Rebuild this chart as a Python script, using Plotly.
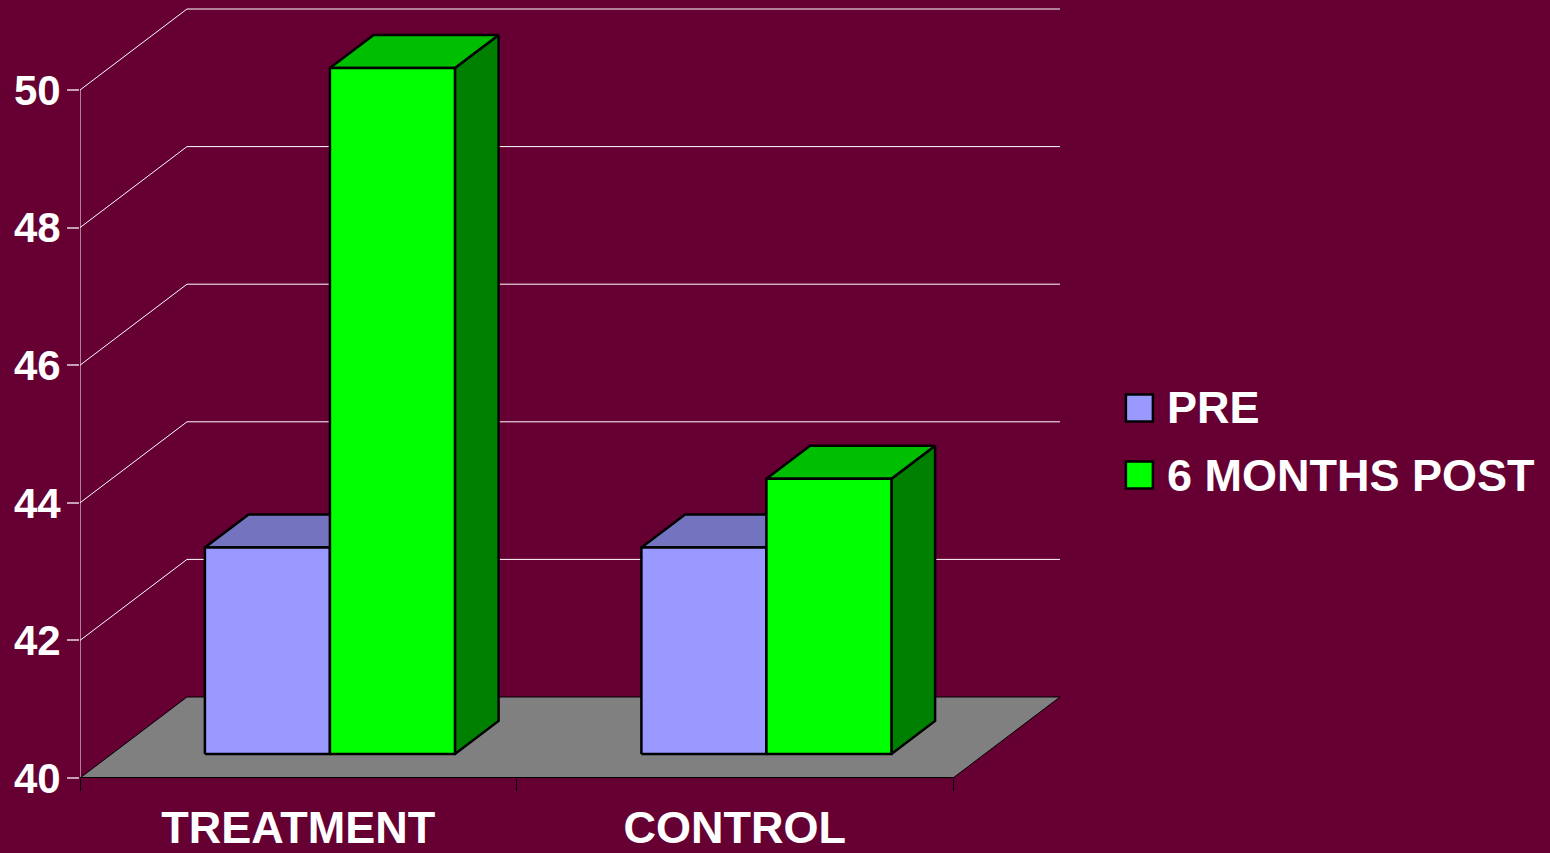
import plotly.graph_objects as go

categories = ["TREATMENT", "CONTROL"]
series_names = ["PRE", "6 MONTHS POST"]
pre_values = [43, 43]
post_values = [49.97, 44]
y_ticks = [40, 42, 44, 46, 48, 50]
y_tick_labels = ["40", "42", "44", "46", "48", "50"]

BG = "#660033"
FONT = "Liberation Sans, Arial, sans-serif"
COLORS = {
    "PRE": ("#9999FF", "#7373BF", "#4D4D80"),
    "6 MONTHS POST": ("#00FF00", "#00BF00", "#008000"),
}
# oblique projection of the chart's depth, in axis units
DX, DY = 0.2451, 1.1773
D0, D1 = 0.296, 0.704
BAR_W = 0.2864
BASE = y_ticks[0]
X_WALL = 2.245

fig = go.Figure()


def poly(xs, ys, fill=None, line="#000000", width=2.5, name=""):
    fig.add_trace(go.Scatter(
        x=xs, y=ys, mode="lines", name=name, showlegend=False, hoverinfo="skip",
        fill="toself" if fill else None, fillcolor=fill,
        line=dict(color=line, width=width),
    ))


# side wall + back wall gridlines
for v in y_ticks[1:]:
    poly([0, DX, X_WALL], [v, v + DY, v + DY], line="#FFFFFF", width=1, name=f"grid {v}")
# value axis line
poly([0, 0], [y_ticks[0], y_ticks[-1]], line="#FFFFFF", width=1, name="axis")
# floor
poly([0, 2, 2 + DX, DX, 0], [BASE, BASE, BASE + DY, BASE + DY, BASE],
     fill="#808080", line="#000000", width=1, name="floor")
poly([0, 2], [BASE, BASE], line="#000000", width=2, name="floor edge")


def bar3d(x0, value, name):
    front, top, side = COLORS[name]
    x1 = x0 + BAR_W
    b = BASE + D0 * DY
    t = value + D0 * DY
    ddx, ddy = (D1 - D0) * DX, (D1 - D0) * DY
    poly([x1, x1 + ddx, x1 + ddx, x1, x1], [b, b + ddy, t + ddy, t, b], fill=side, name=name + " side")
    poly([x0, x0 + ddx, x1 + ddx, x1, x0], [t, t + ddy, t + ddy, t, t], fill=top, name=name + " top")
    poly([x0, x1, x1, x0, x0], [b, b, t, t, b], fill=front, name=name)


for i in range(len(categories)):
    left = i + 0.5 - BAR_W + D0 * DX
    bar3d(left, pre_values[i], series_names[0])
    bar3d(left + BAR_W, post_values[i], series_names[1])

# legend entries
LEG_X = 2.427
LEG_Y = [45.378, 44.404]
annotations = []
for name, ly in zip(series_names, LEG_Y):
    fig.add_trace(go.Scatter(
        x=[LEG_X], y=[ly], mode="markers", name=name, showlegend=False, hoverinfo="skip",
        marker=dict(symbol="square", size=27, color=COLORS[name][0], line=dict(color="#000000", width=2.5)),
        cliponaxis=False,
    ))
    annotations.append(dict(
        x=LEG_X, y=ly, xref="x", yref="y", text=name, showarrow=False,
        xanchor="left", yanchor="middle", xshift=27, borderpad=0,
        font=dict(family=FONT, size=45, color="#FFFFFF", weight="bold"),
    ))

fig.update_layout(
    width=1550, height=853, autosize=False,
    margin=dict(l=80, r=0, t=0, b=75, autoexpand=False),
    paper_bgcolor=BG, plot_bgcolor=BG,
    showlegend=False,
    annotations=annotations,
    xaxis=dict(
        range=[0, 1470 / 436.5], showgrid=False, zeroline=False, showline=False,
        automargin=False,
        tickmode="array", tickvals=[0.5, 1.5], ticktext=categories, ticks="",
        tickfont=dict(family=FONT, size=45, color="#FFFFFF", weight="bold"),
        ticklabelstandoff=19,
        minor=dict(tickmode="array", tickvals=[0, 1, 2], ticks="outside", ticklen=12, tickcolor="#000000", tickwidth=1),
        fixedrange=True,
    ),
    yaxis=dict(
        range=[40, 40 + 778 / 68.8], showgrid=False, zeroline=False, showline=False,
        automargin=False,
        tickmode="array", tickvals=y_ticks, ticktext=y_tick_labels, ticks="outside", ticklen=12,
        tickcolor="#C8A0B4", tickwidth=1.5,
        tickfont=dict(family=FONT, size=42, color="#FFFFFF", weight="bold"),
        ticklabelstandoff=-2,
        fixedrange=True,
    ),
)
fig.write_html(
    "out.html",
    config={"displayModeBar": False},
    post_script="document.body.style.margin='0';document.body.style.overflow='hidden';"
                "document.body.style.background='" + BG + "';",
)
